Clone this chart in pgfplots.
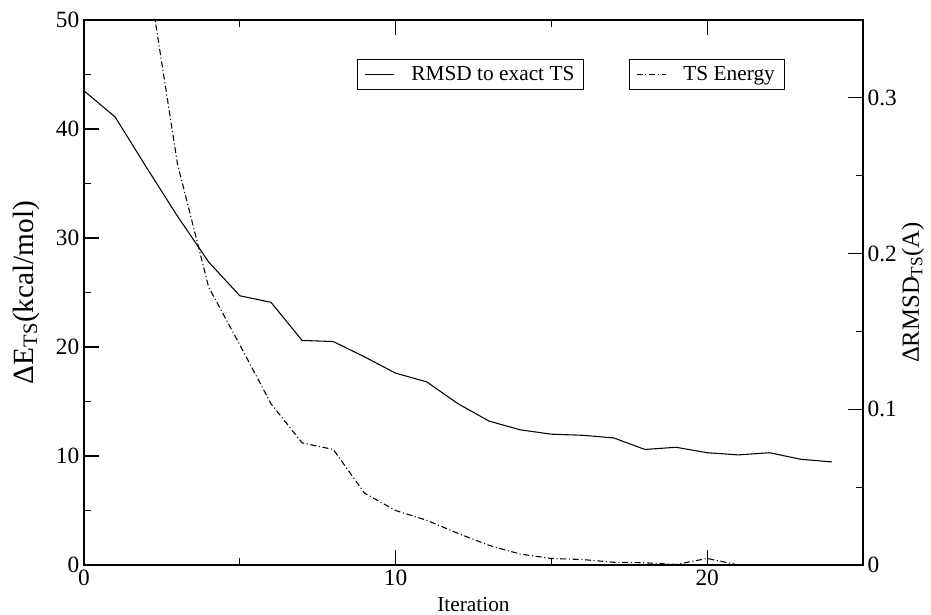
\documentclass[border=0pt]{standalone}
\usepackage{fontspec}
\setmainfont{Liberation Serif}
\usepackage{pgfplots}
\pgfplotsset{compat=1.18}

\begin{document}
\begin{tikzpicture}
\pgfplotsset{
  every axis/.append style={
    scale only axis,
    width=584.25pt, height=408.75pt,
    xmin=0, xmax=25,
    tick align=inside,
    major tick length=11pt,
    minor tick length=5.5pt,
    every tick/.style={black, line width=0.9pt},
    axis line style={line width=1.2pt},
    tick label style={font=\fontsize{17.5}{20}\selectfont},
    /pgf/number format/assume math mode=true,
    legend image code/.code={\draw[#1] (0pt,0pt) -- (22pt,0pt);
                             \path[draw=none] (22pt,0pt) -- (33pt,0pt);},
    legend style={draw=black, line width=0.8pt, fill=white,
                  font=\fontsize{16}{19}\selectfont,
                  inner xsep=5pt, inner ysep=3pt, anchor=north west},
  }
}
% left axis: TS energy in kcal/mol
\begin{axis}[
  name=ax,
  ymin=0, ymax=50,
  xtick={0,10,20}, minor xtick={5,15},
  ytick={0,10,20,30,40,50}, minor ytick={5,15,25,35,45},
  ytick pos=left, xtick pos=both,
  xlabel={Iteration},
  xlabel style={font=\fontsize{16}{19}\selectfont,
                at={(axis description cs:0.5,-0.073)}, anchor=center},
  ylabel={ΔE\textsubscript{TS}(kcal/mol)},
  ylabel style={font=\fontsize{22}{26}\selectfont,
                at={(axis description cs:-0.0745,0.5)}, anchor=center},
  legend style={at={(0.6996,0.928)}},
]
\addplot[black, line width=0.8pt, dash pattern=on 4.5pt off 2pt on 0.8pt off 2pt]
  coordinates {(2,55.2)(3,36.8)(4,25.5)(5,20.2)(6,14.8)(7,11.2)(8,10.6)
               (9,6.6)(10,5.0)(11,4.1)(12,2.9)(13,1.8)(14,1.0)(15,0.6)
               (16,0.5)(17,0.25)(18,0.2)(19,0.05)(20,0.6)(21,0.0)};
\legend{TS Energy}
\end{axis}
% right axis: RMSD
\begin{axis}[
  ymin=0, ymax=0.35,
  axis y line*=right, axis x line=none,
  ytick={0,0.1,0.2,0.3}, minor ytick={0.05,0.15,0.25},
  ylabel={ΔRMSD\textsubscript{TS}(A)},
  ylabel style={font=\fontsize{18.5}{22}\selectfont,
                at={(axis description cs:1.064,0.5)}, anchor=center},
  legend style={at={(0.3505,0.928)}},
]
\addplot[black, line width=0.8pt]
  coordinates {(0,0.3045)(1,0.2877)(2,0.2555)(3,0.224)(4,0.1946)(5,0.1729)
               (6,0.1687)(7,0.1442)(8,0.1435)(9,0.1337)(10,0.1232)(11,0.1176)
               (12,0.1036)(13,0.0924)(14,0.0868)(15,0.084)(16,0.0833)(17,0.0816)
               (18,0.0742)(19,0.0756)(20,0.0721)(21,0.0707)(22,0.0721)(23,0.0679)
               (24,0.0662)};
\legend{RMSD to exact TS}
\end{axis}
\pgfresetboundingbox
\path[use as bounding box] ([shift={(-63pt,-37.5pt)}]ax.south west)
  rectangle ([shift={(51pt,15pt)}]ax.north east);
\end{tikzpicture}
\end{document}
